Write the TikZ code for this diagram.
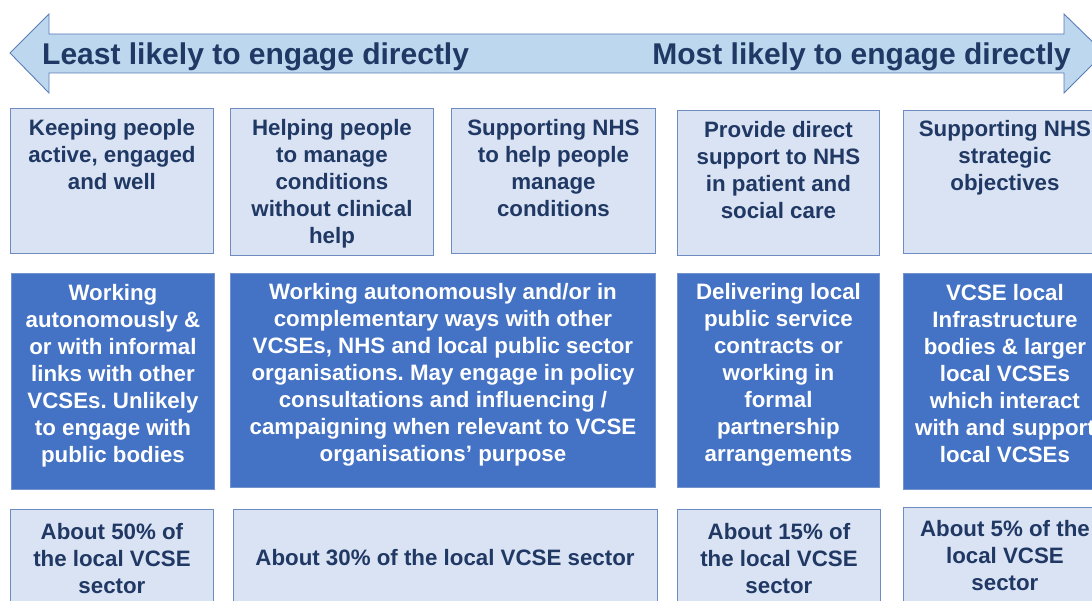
\documentclass[tikz,border=0pt]{standalone}
\usepackage{fontspec}
\setmainfont{Liberation Sans}
\usetikzlibrary{calc}
\frenchspacing

\definecolor{navy}{HTML}{203864}
\definecolor{paleblue}{HTML}{DAE3F3}
\definecolor{paleedge}{HTML}{6F8CC2}
\definecolor{midblue}{HTML}{4472C4}
\definecolor{midedge}{HTML}{7393CC}
\definecolor{arrowfill}{HTML}{BDD7EE}
\definecolor{arrowedge}{HTML}{5B7DB8}

\begin{document}
\begin{tikzpicture}[x=1pt,y=-1pt,
  lightcell/.style={draw=paleedge, fill=paleblue, line width=0.9pt, inner sep=0pt, anchor=north west},
  darkcell/.style={draw=midedge, fill=midblue, line width=0.9pt, inner sep=0pt, anchor=north west},
  celltext/.style={font=\fontsize{22.3}{27}\selectfont\bfseries, align=center, anchor=north, inner sep=0pt},
  lighttext/.style={celltext, text=navy},
  darktext/.style={celltext, text=white},
  headtext/.style={font=\fontsize{30}{34}\selectfont\bfseries, text=navy, inner sep=0pt}
]
\clip (0,0) rectangle (1092,601);

% double-headed scale arrow
\draw[draw=arrowedge, fill=arrowfill, line width=0.9pt, line join=miter]
  (10,53) -- (49,14) -- (49,34) -- (1064,34) -- (1064,14) -- (1104,53)
  -- (1064,93) -- (1064,73) -- (49,73) -- (49,93) -- cycle;
\node[headtext, anchor=base west] (least) at (42,65) {Least likely to engage directly};
\node[headtext, anchor=base east] (most) at (1071,65) {Most likely to engage directly};

% row 1: kinds of activity
\node[lightcell, minimum width=203pt, minimum height=145pt] (t1) at (10,108) {};
\node[lightcell, minimum width=203pt, minimum height=147pt] (t2) at (230,108) {};
\node[lightcell, minimum width=204pt, minimum height=145pt] (t3) at (451,108) {};
\node[lightcell, minimum width=202pt, minimum height=145pt] (t4) at (677,110) {};
\node[lightcell, minimum width=203pt, minimum height=143pt] (t5) at (903,110) {};

\node[lighttext] (t1x) at ($(t1.north)+(0,8)$) {\strut Keeping people\\active, engaged\\and well};
\node[lighttext] (t2x) at ($(t2.north)+(0,8)$) {\strut Helping people\\to manage\\conditions\\without clinical\\help};
\node[lighttext] (t3x) at ($(t3.north)+(0,8)$) {\strut Supporting NHS\\to help people\\manage\\conditions};
\node[lighttext] (t4x) at ($(t4.north)+(0,8)$) {\strut Provide direct\\support to NHS\\in patient and\\social care};
\node[lighttext] (t5x) at ($(t5.north)+(0,7)$) {\strut Supporting NHS\\strategic\\objectives};

% row 2: ways of working
\node[darkcell, minimum width=203pt, minimum height=216pt] (m1) at (11,273) {};
\node[darkcell, minimum width=425pt, minimum height=214pt] (m2) at (230,273) {};
\node[darkcell, minimum width=202pt, minimum height=214pt] (m3) at (677,273) {};
\node[darkcell, minimum width=203pt, minimum height=216pt] (m4) at (903,273) {};

\node[darktext] (m1x) at ($(m1.north)+(0,8)$) {\strut Working\\autonomously \&\\or with informal\\links with other\\VCSEs. Unlikely\\to engage with\\public bodies};
\node[darktext] (m2x) at ($(m2.north)+(0,7)$) {\strut Working autonomously and/or in\\complementary ways with other\\VCSEs, NHS and local public sector\\organisations. May engage in policy\\consultations and influencing /\\campaigning when relevant to VCSE\\organisations’ purpose};
\node[darktext] (m3x) at ($(m3.north)+(0,7)$) {\strut Delivering local\\public service\\contracts or\\working in\\formal\\partnership\\arrangements};
\node[darktext] (m4x) at ($(m4.north)+(0,8)$) {\strut VCSE local\\Infrastructure\\bodies \& larger\\local VCSEs\\which interact\\with and support\\local VCSEs};

% row 3: share of the sector
\node[lightcell, minimum width=203pt, minimum height=100pt] (b1) at (10,509) {};
\node[lightcell, minimum width=424pt, minimum height=100pt] (b2) at (233,509) {};
\node[lightcell, minimum width=203pt, minimum height=100pt] (b3) at (677,509) {};
\node[lightcell, minimum width=203pt, minimum height=100pt] (b4) at (903,507) {};

\node[lighttext] (b1x) at ($(b1.north)+(0,11)$) {\strut About 50\% of\\the local VCSE\\sector};
\node[lighttext, anchor=center] (b2x) at (445,558) {About 30\% of the local VCSE sector};
\node[lighttext] (b3x) at ($(b3.north)+(0,11)$) {\strut About 15\% of\\the local VCSE\\sector};
\node[lighttext] (b4x) at ($(b4.north)+(0,10)$) {\strut About 5\% of the\\local VCSE\\sector};
\end{tikzpicture}
\end{document}
